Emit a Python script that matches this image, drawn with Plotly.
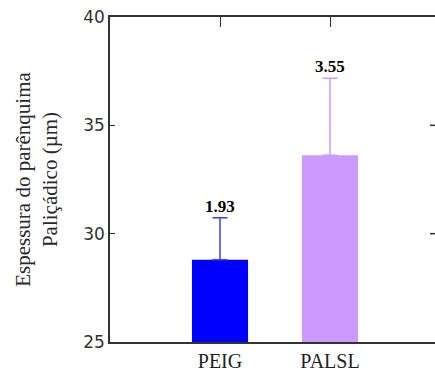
import plotly.graph_objects as go

# Palisade parenchyma thickness (µm): mean and standard deviation per group
categories = ["PEIG", "PALSL"]
means = [28.80, 33.62]
std_dev = [1.93, 3.55]
bar_colors = ["#0000ff", "#cc99ff"]
err_colors = ["#3c3cff", "#cc99ff"]
y_ticks = [25, 30, 35, 40]

fig = go.Figure()

for i, cat in enumerate(categories):
    fig.add_trace(go.Bar(
        x=[cat], y=[means[i]],
        marker=dict(color=bar_colors[i], line=dict(width=0, color=bar_colors[i])),
        error_y=dict(type="data", array=[std_dev[i]], arrayminus=[0],
                     symmetric=False, color=err_colors[i],
                     thickness=1.5, width=7.5),
        showlegend=False,
    ))
    fig.add_annotation(
        x=cat, y=means[i] + std_dev[i],
        text=f"<b>{std_dev[i]:.2f}</b>",
        showarrow=False, yanchor="bottom", yshift=0,
        font=dict(family="Liberation Serif", size=17, color="#000000"),
    )

# right-hand inward tick marks (the right frame edge lies just off the canvas)
for v in y_ticks[1:-1]:
    fig.add_shape(type="line", xref="paper", yref="y",
                  xsizemode="pixel", xanchor=1, x0=-5, x1=0, y0=v, y1=v,
                  line=dict(color="#333333", width=1.5))

fig.update_layout(
    width=435, height=372,
    margin=dict(l=110, r=0, t=17, b=25),
    paper_bgcolor="white", plot_bgcolor="white",
    bargap=0.49,
    xaxis=dict(
        type="category", range=[-1, 1.9545],
        showline=True, linecolor="#333333", linewidth=1.5,
        mirror="ticks", ticks="inside", ticklen=10, tickcolor="#333333",
        layer="below traces",
        showgrid=False, zeroline=False,
        tickfont=dict(family="Liberation Serif", size=20, color="#222222"),
    ),
    yaxis=dict(
        range=[25, 40], tickvals=y_ticks,
        showline=True, linecolor="#333333", linewidth=1.5,
        ticks="inside", ticklen=5, tickcolor="#333333",
        showgrid=False, zeroline=False,
        tickfont=dict(family="DejaVu Sans", size=17, color="#333333"),
        title=dict(text="Espessura do parênquima<br>Paliçádico (µm)",
                   font=dict(family="Liberation Serif", size=21, color="#2a2a2a"),
                   standoff=20),
    ),
)

fig.write_html("out.html")
